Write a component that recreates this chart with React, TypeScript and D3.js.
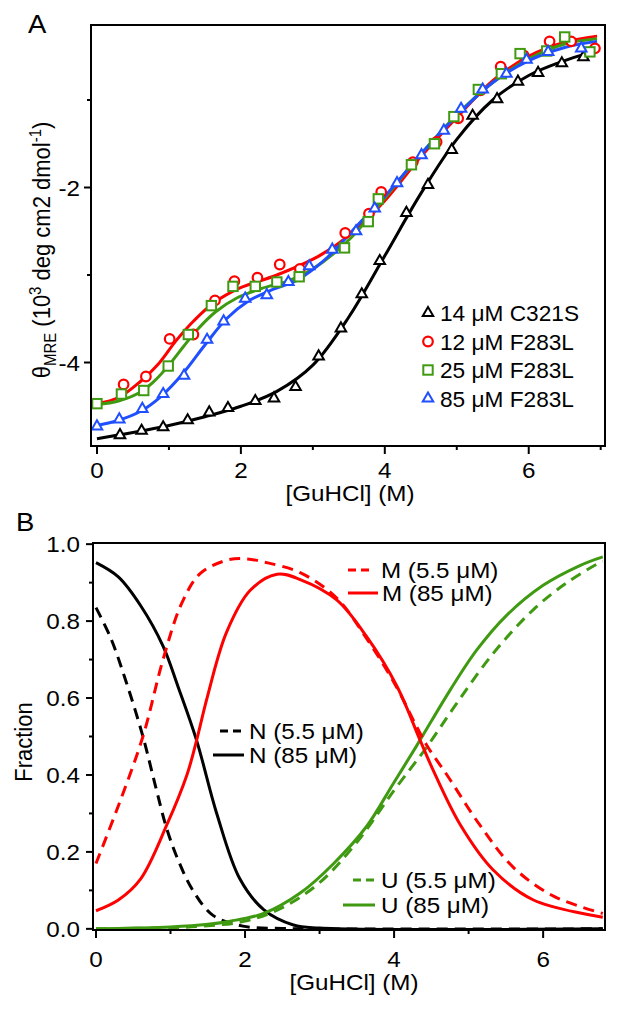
import React from "react";
import * as d3 from "d3";

// ---------- Panel A data ----------
const aC321S_x = [0.32, 0.62, 0.92, 1.26, 1.56, 1.82, 2.2, 2.46, 2.76, 3.08, 3.39, 3.68, 3.93, 4.3, 4.6, 4.93, 5.22, 5.56, 5.85, 6.13, 6.46, 6.76];
const aC321S_y = [-4.83, -4.78, -4.74, -4.66, -4.57, -4.52, -4.44, -4.41, -4.28, -3.93, -3.61, -3.22, -2.84, -2.29, -1.97, -1.57, -1.18, -0.99, -0.79, -0.69, -0.58, -0.51];
const aF12_x = [0.37, 0.68, 1.01, 1.34, 1.64, 1.91, 2.23, 2.54, 2.82, 3.45, 3.78, 3.95, 4.39, 4.72, 5.02, 5.33, 5.61, 5.93, 6.29, 6.59, 6.92];
const aF12_y = [-4.25, -4.16, -3.73, -3.68, -3.29, -3.07, -3.03, -2.88, -2.93, -2.52, -2.3, -2.05, -1.71, -1.48, -1.21, -0.89, -0.62, -0.49, -0.33, -0.33, -0.41];
const aF25_x = [0, 0.34, 0.65, 0.99, 1.27, 1.59, 1.89, 2.2, 2.5, 2.81, 3.44, 3.77, 3.91, 4.37, 4.69, 4.96, 5.3, 5.62, 5.88, 6.25, 6.5, 6.85];
const aF25_y = [-4.47, -4.36, -4.32, -4.04, -3.68, -3.35, -3.13, -3.13, -3.08, -3.02, -2.69, -2.39, -2.13, -1.74, -1.5, -1.19, -0.88, -0.7, -0.47, -0.44, -0.28, -0.45];
const aF85_x = [0, 0.31, 0.63, 0.92, 1.21, 1.53, 1.76, 2.06, 2.36, 2.66, 2.95, 3.27, 3.6, 3.86, 4.17, 4.51, 4.82, 5.06, 5.36, 5.69, 5.97, 6.27, 6.73];
const aF85_y = [-4.73, -4.65, -4.53, -4.36, -4.15, -3.74, -3.53, -3.27, -3.23, -3.08, -2.9, -2.71, -2.5, -2.24, -1.95, -1.63, -1.35, -1.1, -0.88, -0.7, -0.54, -0.45, -0.41];

// fitted curves
const fitC321S_x = [0, 0.5, 1, 1.5, 2, 2.5, 3, 3.5, 4, 4.5, 5, 5.5, 6, 6.5, 6.8];
const fitC321S_y = [-4.87, -4.8, -4.72, -4.62, -4.5, -4.33, -4.03, -3.48, -2.78, -2.07, -1.45, -1.0, -0.72, -0.55, -0.47];
const fitF12_x = [0, 0.3, 0.6, 0.85, 1.1, 1.35, 1.62, 1.98, 2.5, 3.07, 3.5, 4.0, 4.5, 5, 5.5, 6, 6.5, 6.95];
const fitF12_y = [-4.47, -4.4, -4.22, -4.02, -3.75, -3.52, -3.32, -3.15, -3.0, -2.79, -2.55, -2.15, -1.65, -1.2, -0.78, -0.5, -0.34, -0.27];
const fitF25_x = [0, 0.3, 0.6, 0.8, 1.0, 1.2, 1.4, 1.65, 1.95, 2.3, 2.65, 3.0, 3.5, 4, 4.5, 5, 5.5, 6, 6.5, 6.95];
const fitF25_y = [-4.48, -4.44, -4.34, -4.21, -4.03, -3.82, -3.62, -3.42, -3.26, -3.15, -3.07, -2.93, -2.6, -2.12, -1.62, -1.17, -0.8, -0.53, -0.36, -0.3];
const fitF85_x = [0, 0.3, 0.6, 0.9, 1.2, 1.5, 1.8, 2.1, 2.4, 2.8, 3.2, 3.6, 4.0, 4.5, 5, 5.5, 6, 6.5, 6.95];
const fitF85_y = [-4.72, -4.66, -4.56, -4.38, -4.12, -3.8, -3.5, -3.3, -3.18, -3.05, -2.8, -2.45, -2.1, -1.62, -1.18, -0.8, -0.55, -0.4, -0.33];

const legendA = ["14 \u03bcM C321S", "12 \u03bcM F283L", "25 \u03bcM F283L", "85 \u03bcM F283L"];

// ---------- Panel B data ----------
const bN55_x = [0, 0.2, 0.4, 0.63, 0.8, 0.95, 1.1, 1.3, 1.57, 1.97, 2.5, 3, 6.8];
const bN55_y = [0.835, 0.755, 0.645, 0.5, 0.37, 0.26, 0.18, 0.1, 0.035, 0.007, 0.001, 0, 0];
const bN85_x = [0, 0.3, 0.6, 0.9, 1.1, 1.35, 1.62, 1.93, 2.25, 2.65, 3, 6.8];
const bN85_y = [0.952, 0.915, 0.84, 0.735, 0.63, 0.49, 0.3, 0.13, 0.05, 0.01, 0.002, 0];
const bM55_x = [0, 0.32, 0.63, 0.9, 1.15, 1.4, 1.75, 2.0, 2.29, 2.74, 3.23, 3.63, 4.0, 4.43, 4.71, 5.15, 5.6, 6.14, 6.8];
const bM55_y = [0.17, 0.33, 0.5, 0.7, 0.846, 0.924, 0.958, 0.962, 0.952, 0.926, 0.86, 0.755, 0.64, 0.48, 0.4, 0.27, 0.16, 0.085, 0.04];
const bM85_x = [0, 0.3, 0.6, 0.95, 1.22, 1.35, 1.49, 1.75, 2.07, 2.43, 2.74, 3.23, 3.63, 4.04, 4.35, 4.53, 4.89, 5.33, 5.87, 6.8];
const bM85_y = [0.047, 0.075, 0.13, 0.27, 0.4, 0.49, 0.6, 0.77, 0.88, 0.922, 0.908, 0.855, 0.76, 0.63, 0.49, 0.41, 0.27, 0.153, 0.075, 0.03];
const bU55_x = [0, 1, 1.5, 2, 2.5, 3, 3.5, 4.0, 4.44, 4.84, 5.33, 5.87, 6.32, 6.72, 6.8];
const bU55_y = [0, 0.003, 0.008, 0.02, 0.055, 0.12, 0.225, 0.36, 0.473, 0.586, 0.716, 0.83, 0.9, 0.948, 0.955];
const bU85_x = [0, 0.5, 1.0, 1.5, 1.8, 2.25, 2.74, 3.19, 3.63, 3.99, 4.3, 4.75, 5.11, 5.51, 6.0, 6.5, 6.8];
const bU85_y = [0, 0.002, 0.005, 0.012, 0.02, 0.04, 0.093, 0.17, 0.266, 0.378, 0.475, 0.62, 0.725, 0.815, 0.893, 0.945, 0.967];

const xTicksMajor = [0, 2, 4, 6];
const xTicksMinorA = [1, 3, 5, 7];
const xTicksMinorB = [1, 3, 5];
const yTicksMajorA = [-2, -4];
const yTicksMinorA = [-1, -3];
const yTicksMajorB = [0, 0.2, 0.4, 0.6, 0.8, 1.0];
const yTicksMinorB = [0.1, 0.3, 0.5, 0.7, 0.9];

const RED = "#ff0000";
const GREEN = "#3f9a12";
const BLUE = "#1f4fff";
const BLACK = "#000000";
const FONT = "'Liberation Sans', Arial, Helvetica, sans-serif";
const FS = 22;
const SX = 1.1;

const zip = (xs: number[], ys: number[]) => xs.map((x, i) => [x, ys[i]] as [number, number]);

function T(props: { x: number; y: number; anchor?: string; size?: number; rot?: boolean; sx?: number; children: React.ReactNode }) {
  const { x, y, anchor = "start", size = FS, rot = false, sx = SX, children } = props;
  const tr = rot ? `translate(${x},${y}) rotate(-90) scale(1,${sx})` : `translate(${x},${y}) scale(${sx},1)`;
  return (
    <text transform={tr} fontSize={size} textAnchor={anchor}>
      {children}
    </text>
  );
}

export default function App() {
  const xA = d3.scaleLinear().domain([-0.083, 7.06]).range([91, 605]);
  const yA = d3.scaleLinear().domain([-4.954, -0.143]).range([446, 25]);
  const xB = d3.scaleLinear().domain([-0.04, 6.83]).range([93, 605]);
  const yB = d3.scaleLinear().domain([-0.003, 1.003]).range([930, 543]);

  const lineA = d3.line<[number, number]>().x(d => xA(d[0])).y(d => yA(d[1])).curve(d3.curveCatmullRom.alpha(0.5));
  const lineB = d3.line<[number, number]>().x(d => xB(d[0])).y(d => yB(d[1])).curve(d3.curveCatmullRom.alpha(0.5));

  const tri = d3.symbol().type(d3.symbolTriangle).size(48)() as string;

  const seriesA = [
    { px: aC321S_x, py: aC321S_y, fx: fitC321S_x, fy: fitC321S_y, color: BLACK, shape: "tri" },
    { px: aF12_x, py: aF12_y, fx: fitF12_x, fy: fitF12_y, color: RED, shape: "circle" },
    { px: aF25_x, py: aF25_y, fx: fitF25_x, fy: fitF25_y, color: GREEN, shape: "square" },
    { px: aF85_x, py: aF85_y, fx: fitF85_x, fy: fitF85_y, color: BLUE, shape: "tri" },
  ];

  const marker = (shape: string, cx: number, cy: number, color: string, key: string) => {
    if (shape === "circle") return <circle key={key} cx={cx} cy={cy} r={4.8} fill="white" stroke={color} strokeWidth={2.2} />;
    if (shape === "square") return <rect key={key} x={cx - 4.7} y={cy - 4.7} width={9.4} height={9.4} fill="white" stroke={color} strokeWidth={2} />;
    return <path key={key} d={tri} transform={`translate(${cx},${cy})`} fill="white" stroke={color} strokeWidth={2} />;
  };

  const seriesB = [
    { x: bN55_x, y: bN55_y, color: BLACK, dash: true },
    { x: bN85_x, y: bN85_y, color: BLACK, dash: false },
    { x: bU55_x, y: bU55_y, color: GREEN, dash: true },
    { x: bU85_x, y: bU85_y, color: GREEN, dash: false },
    { x: bM55_x, y: bM55_y, color: RED, dash: true },
    { x: bM85_x, y: bM85_y, color: RED, dash: false },
  ];

  const legendB = [
    { label: "M (5.5 \u03bcM)", color: RED, dash: true, x1: 348, x2: 373, tx: 381, y: 570 },
    { label: "M (85 \u03bcM)", color: RED, dash: false, x1: 348, x2: 378, tx: 382, y: 593 },
    { label: "N (5.5 \u03bcM)", color: BLACK, dash: true, x1: 220, x2: 244, tx: 249, y: 731 },
    { label: "N (85 \u03bcM)", color: BLACK, dash: false, x1: 213, x2: 244, tx: 249, y: 755 },
    { label: "U (5.5 \u03bcM)", color: GREEN, dash: true, x1: 353, x2: 375, tx: 381, y: 880 },
    { label: "U (85 \u03bcM)", color: GREEN, dash: false, x1: 343, x2: 375, tx: 381, y: 905 },
  ];

  return (
    <svg width={617} height={1011} style={{ position: "absolute", left: 0, top: 0, background: "white" }} fontFamily={FONT}>
      <rect x={0} y={0} width={617} height={1011} fill="white" />
      <defs>
        <clipPath id="clipA"><rect x={91} y={25} width={514} height={421} /></clipPath>
        <clipPath id="clipB"><rect x={93} y={543} width={512} height={387} /></clipPath>
      </defs>

      {/* ===== Panel A ===== */}
      <T x={28} y={33} size={25}>A</T>
      <g clipPath="url(#clipA)">
        {seriesA.map((s, i) => (
          <path key={"fa" + i} d={lineA(zip(s.fx, s.fy)) as string} fill="none" stroke={s.color} strokeWidth={3} />
        ))}
        {seriesA.map((s, i) => s.px.map((x, j) => marker(s.shape, xA(x), yA(s.py[j]), s.color, `m${i}-${j}`)))}
      </g>
      <rect x={91} y={25} width={514} height={421} fill="none" stroke="black" strokeWidth={2} />
      {xTicksMajor.map(t => (
        <g key={"axt" + t}>
          <line x1={xA(t)} x2={xA(t)} y1={446} y2={454} stroke="black" strokeWidth={2} />
          <T x={xA(t)} y={478} anchor="middle">{t}</T>
        </g>
      ))}
      {xTicksMinorA.map(t => (
        <line key={"axm" + t} x1={xA(t)} x2={xA(t)} y1={446} y2={450} stroke="black" strokeWidth={2} />
      ))}
      {yTicksMajorA.map(t => (
        <g key={"ayt" + t}>
          <line x1={84} x2={91} y1={yA(t)} y2={yA(t)} stroke="black" strokeWidth={2} />
          <T x={80} y={yA(t) + 8} anchor="end">{t}</T>
        </g>
      ))}
      {yTicksMinorA.map(t => (
        <line key={"aym" + t} x1={87} x2={91} y1={yA(t)} y2={yA(t)} stroke="black" strokeWidth={2} />
      ))}
      <T x={350} y={501} anchor="middle">[GuHCl] (M)</T>
      <T x={50} y={250} anchor="middle" rot>
        <tspan>θ</tspan>
        <tspan fontSize={15} dy={5}>MRE</tspan>
        <tspan dy={-5}> (10</tspan>
        <tspan fontSize={15} dy={-8}>3</tspan>
        <tspan dy={8}> deg cm2 dmol</tspan>
        <tspan fontSize={15} dy={-8}>-1</tspan>
        <tspan dy={8}>)</tspan>
      </T>
      {legendA.map((lab, i) => {
        const y = 313 + i * 28.5;
        const s = seriesA[i];
        return (
          <g key={"la" + i}>
            {marker(s.shape, 428, y, s.color, "lm" + i)}
            <T x={440} y={y + 8} sx={1.03}>{lab}</T>
          </g>
        );
      })}

      {/* ===== Panel B ===== */}
      <T x={16} y={531} size={25}>B</T>
      <g clipPath="url(#clipB)">
        {seriesB.map((s, i) => (
          <path key={"b" + i} d={lineB(zip(s.x, s.y)) as string} fill="none" stroke={s.color} strokeWidth={3}
            strokeDasharray={s.dash ? "11,7" : undefined} />
        ))}
      </g>
      <rect x={93} y={543} width={512} height={387} fill="none" stroke="black" strokeWidth={2} />
      {xTicksMajor.map(t => (
        <g key={"bxt" + t}>
          <line x1={xB(t)} x2={xB(t)} y1={930} y2={938} stroke="black" strokeWidth={2} />
          <T x={xB(t)} y={967} anchor="middle">{t}</T>
        </g>
      ))}
      {xTicksMinorB.map(t => (
        <line key={"bxm" + t} x1={xB(t)} x2={xB(t)} y1={930} y2={934} stroke="black" strokeWidth={2} />
      ))}
      {yTicksMajorB.map(t => (
        <g key={"byt" + t}>
          <line x1={86} x2={93} y1={yB(t)} y2={yB(t)} stroke="black" strokeWidth={2} />
          <T x={80} y={yB(t) + 8} anchor="end">{t.toFixed(1)}</T>
        </g>
      ))}
      {yTicksMinorB.map(t => (
        <line key={"bym" + t} x1={89} x2={93} y1={yB(t)} y2={yB(t)} stroke="black" strokeWidth={2} />
      ))}
      <T x={354} y={990} anchor="middle">[GuHCl] (M)</T>
      <T x={32} y={742} anchor="middle" rot>Fraction</T>
      {legendB.map((l, i) => (
        <g key={"lb" + i}>
          <line x1={l.x1} x2={l.x2} y1={l.y} y2={l.y} stroke={l.color} strokeWidth={3} strokeDasharray={l.dash ? "8,5" : undefined} />
          <T x={l.tx} y={l.y + 8}>{l.label}</T>
        </g>
      ))}
    </svg>
  );
}
